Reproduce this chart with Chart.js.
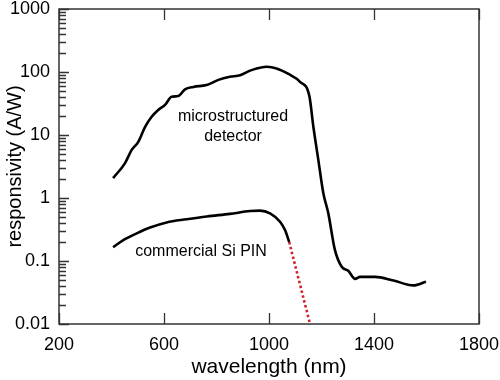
<!DOCTYPE html>
<html><head><meta charset="utf-8">
<script src="https://cdn.jsdelivr.net/npm/chart.js@4.4.1/dist/chart.umd.min.js"></script>
<style>html,body{margin:0;padding:0;background:#fff;}#wrap{width:500px;height:380px;}</style>
</head><body><div id="wrap"><canvas id="c" width="500" height="380"></canvas></div>
<script>
const microWavelength = [406, 451, 477, 502, 528, 553, 578, 604, 629, 654, 680, 712, 762, 807, 851, 890, 928, 953, 991, 1029, 1074, 1118, 1154, 1169, 1188, 1207, 1226, 1251, 1277, 1302, 1328, 1347, 1404, 1474, 1550, 1598];
const microResponsivity = [2.07, 3.55, 5.8, 7.8, 13.5, 19.5, 25, 30, 40.5, 41.5, 53, 58, 62, 75, 84, 89, 105, 114, 121, 114, 93, 70, 41, 13.5, 4, 1.19, 0.57, 0.15, 0.081, 0.07, 0.052, 0.056, 0.056, 0.049, 0.041, 0.047];
const pinWavelength = [406, 445, 496, 547, 610, 686, 763, 851, 928, 966, 1004, 1042, 1061, 1077];
const pinResponsivity = [0.165, 0.215, 0.275, 0.34, 0.41, 0.46, 0.51, 0.56, 0.62, 0.63, 0.57, 0.42, 0.31, 0.20];
const pinExtrapWavelength = [1077, 1155];
const pinExtrapResponsivity = [0.20, 0.0105];
const xTicks = [200, 600, 1000, 1400, 1800];
const yTicks = [0.01, 0.1, 1, 10, 100, 1000];
const yTickLabels = ['0.01', '0.1', '1', '10', '100', '1000'];
const curveLabels = [
  {text: 'microstructured', x: 863, y: 19.3},
  {text: 'detector', x: 863, y: 9.3},
  {text: 'commercial Si PIN', x: 741, y: 0.139}
];

const FONT = '"Liberation Sans", Arial, Helvetica, sans-serif';
const toXY = (xs, ys) => xs.map((x, i) => ({x: x, y: ys[i]}));
const zeroPad = s => { s.paddingTop = 0; s.paddingBottom = 0; s.paddingLeft = 0; s.paddingRight = 0; };

const framePlugin = {
  id: 'frame',
  afterDatasetsDraw(chart) {
    const {ctx, chartArea: a, scales: {x, y}} = chart;
    ctx.save();
    ctx.strokeStyle = '#333';
    ctx.lineWidth = 1.5;
    ctx.strokeRect(a.left, a.top, a.right - a.left, a.bottom - a.top);
    ctx.lineWidth = 1.3;
    ctx.beginPath();
    xTicks.forEach(v => {
      const px = Math.round(x.getPixelForValue(v)) + 0.5;
      ctx.moveTo(px, a.bottom); ctx.lineTo(px, a.bottom - 11);
      ctx.moveTo(px, a.top); ctx.lineTo(px, a.top + 11);
    });
    for (let d = 0; d < yTicks.length; d++) {
      const base = yTicks[d];
      const py = Math.round(y.getPixelForValue(base)) + 0.5;
      ctx.moveTo(a.left, py); ctx.lineTo(a.left + 10, py);
      if (d < yTicks.length - 1) {
        for (let m = 2; m <= 9; m++) {
          const pm = Math.round(y.getPixelForValue(base * m)) + 0.5;
          ctx.moveTo(a.left, pm); ctx.lineTo(a.left + 7, pm);
        }
      }
    }
    ctx.stroke();
    ctx.fillStyle = '#000';
    ctx.font = '16px ' + FONT;
    ctx.textAlign = 'center';
    ctx.textBaseline = 'middle';
    curveLabels.forEach(l => ctx.fillText(l.text, x.getPixelForValue(l.x), y.getPixelForValue(l.y)));
    ctx.restore();
  }
};

new Chart(document.getElementById('c'), {
  type: 'scatter',
  data: {
    datasets: [
      {data: toXY(microWavelength, microResponsivity), showLine: true, borderColor: '#000', borderWidth: 2.6, pointRadius: 0, cubicInterpolationMode: 'monotone'},
      {data: toXY(pinWavelength, pinResponsivity), showLine: true, borderColor: '#000', borderWidth: 2.6, pointRadius: 0, cubicInterpolationMode: 'monotone'},
      {data: toXY(pinExtrapWavelength, pinExtrapResponsivity), showLine: true, borderColor: '#d3202a', borderWidth: 2.6, borderDash: [2.5, 2.5], pointRadius: 0}
    ]
  },
  options: {
    responsive: false, animation: false, devicePixelRatio: 1,
    layout: {padding: {top: 9, right: 21, left: 0, bottom: 0}},
    plugins: {legend: {display: false}, tooltip: {enabled: false}},
    scales: {
      x: {
        type: 'linear', min: 200, max: 1800,
        afterBuildTicks: s => { s.ticks = xTicks.map(v => ({value: v})); },
        afterFit: s => { s.height = 56; zeroPad(s); },
        grid: {display: false, drawTicks: false},
        border: {display: false},
        ticks: {color: '#000', padding: 10, maxRotation: 0, font: {family: FONT, size: 18}, callback: v => String(v)},
        title: {display: true, text: 'wavelength (nm)', color: '#000', padding: {top: 0, bottom: 0}, font: {family: FONT, size: 21}}
      },
      y: {
        type: 'logarithmic', min: 0.01, max: 1000,
        afterBuildTicks: s => { s.ticks = yTicks.map(v => ({value: v})); },
        afterFit: s => { s.width = 59; zeroPad(s); },
        grid: {display: false, drawTicks: false},
        border: {display: false},
        ticks: {color: '#000', padding: 9, font: {family: FONT, size: 18}, callback: (v) => { const i = yTicks.indexOf(v); return i >= 0 ? yTickLabels[i] : ''; }},
        title: {display: true, text: 'responsivity (A/W)', color: '#000', padding: {top: 3, bottom: 0}, font: {family: FONT, size: 20}}
      }
    }
  },
  plugins: [framePlugin]
});
</script></body></html>
